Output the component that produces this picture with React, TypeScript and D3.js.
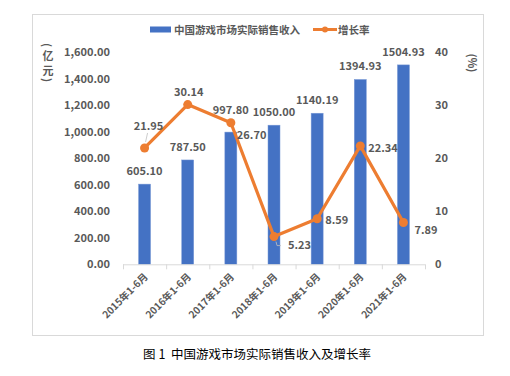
import React from "react";
import * as d3 from "d3";

const categories = ["2015年1-6月", "2016年1-6月", "2017年1-6月", "2018年1-6月", "2019年1-6月", "2020年1-6月", "2021年1-6月"];
const revenue = [605.1, 787.5, 997.8, 1050.0, 1140.19, 1394.93, 1504.93];
const growth = [21.95, 30.14, 26.7, 5.23, 8.59, 22.34, 7.89];
const leftTicks = [0, 200, 400, 600, 800, 1000, 1200, 1400, 1600];
const rightTicks = [0, 10, 20, 30, 40];
const leftTitle = ["(", "亿", "元", ")"];

// label offsets (pixels) relative to marks
const barLabelDy = [-9, -9, -18, -9, -9, -9, -9];
const lineLabelOffsets: [number, number, string][] = [
  [4, -18, "middle"],
  [1, -9, "middle"],
  [6, 16, "start"],
  [14, 12, "start"],
  [8, 5, "start"],
  [8, 6, "start"],
  [11, 12, "start"],
];

const FONT = "'Noto Sans CJK SC', 'Noto Sans', sans-serif";
const GRAY = "#595959";

export default function App() {
  const W = 510, H = 376;
  const x0 = 123, x1 = 425, yTop = 52.3, yBot = 264.3;
  const x = d3.scaleBand<string>().domain(categories).range([x0, x1]);
  const yL = d3.scaleLinear().domain([0, 1600]).range([yBot, yTop]);
  const yR = d3.scaleLinear().domain([0, 40]).range([yBot, yTop]);
  const cx = (c: string) => (x(c) as number) + x.bandwidth() / 2;
  const barW = 12;
  const line = d3.line<number>().x((_, i) => cx(categories[i])).y((d) => yR(d));
  const fmtL = d3.format(",.2f");
  const leftTitleY = [45, 55, 70, 80];

  return (
    <svg width={W} height={H} style={{ position: "absolute", left: 0, top: 0 }}>
      <rect x={0} y={0} width={W} height={H} fill="#fff" />
      <rect x={32.5} y={14.5} width={451} height={321} fill="#fff" stroke="#d9d9d9" strokeWidth={1} />
      {/* legend */}
      <rect x={150} y={26.5} width={21} height={6} fill="#4472C4" />
      <text x={174} y={33.5} fontFamily={FONT} fontSize={10.5} fontWeight="bold" fill={GRAY}>中国游戏市场实际销售收入</text>
      <line x1={313} x2={337} y1={29.5} y2={29.5} stroke="#ED7D31" strokeWidth={3} />
      <circle cx={325} cy={29.5} r={3} fill="#ED7D31" />
      <text x={338} y={33.5} fontFamily={FONT} fontSize={10.5} fontWeight="bold" fill={GRAY}>增长率</text>
      {/* axis titles */}
      {leftTitle.map((ch, i) => (
        <text key={i} transform={`translate(48,${leftTitleY[i]})${i === 0 || i === 3 ? " rotate(90)" : ""}`} dominantBaseline="central" textAnchor="middle" fontFamily={FONT} fontSize={11} fontWeight="bold" fill={GRAY}>{ch}</text>
      ))}
      <text transform="translate(473,63) rotate(90)" dominantBaseline="central" textAnchor="middle" fontFamily={FONT} fontSize={11} fontWeight="bold" fill={GRAY}>(%)</text>
      {/* left ticks */}
      {leftTicks.map((t) => (
        <text key={t} x={110} y={yL(t) + 4} textAnchor="end" fontFamily={FONT} fontSize={11} fontWeight="bold" fill={GRAY}>{fmtL(t)}</text>
      ))}
      {rightTicks.map((t) => (
        <text key={t} x={435} y={yR(t) + 4} textAnchor="start" fontFamily={FONT} fontSize={11} fontWeight="bold" fill={GRAY}>{t}</text>
      ))}
      {/* bars */}
      {revenue.map((v, i) => (
        <rect key={i} x={cx(categories[i]) - barW / 2} y={yL(v)} width={barW} height={yBot - yL(v)} fill="#4472C4" stroke="#7a9ad6" strokeWidth={0.5} />
      ))}
      {/* axis */}
      <line x1={x0} x2={x1} y1={yBot + 0.5} y2={yBot + 0.5} stroke="#d9d9d9" />
      {[...categories.map((c) => x(c) as number), x1].map((t, i) => (
        <line key={i} x1={t + 0.5} x2={t + 0.5} y1={yBot} y2={yBot + 5} stroke="#d9d9d9" />
      ))}
      {categories.map((c) => (
        <text key={c} transform={`translate(${cx(c) + 4},${yBot + 13}) rotate(-45)`} textAnchor="end" fontFamily={FONT} fontSize={10} fontWeight="bold" fill={GRAY}>{c}</text>
      ))}
      {/* leader lines */}
      <line x1={cx(categories[0]) + 1} y1={yR(growth[0]) - 6} x2={cx(categories[0]) + 3} y2={yR(growth[0]) - 15} stroke="#bfbfbf" strokeWidth={0.8} />
      <polyline points={`${cx(categories[3]) + 2},${yR(growth[3]) + 5} ${cx(categories[3]) + 3},${yR(growth[3]) + 9} ${cx(categories[3]) + 7},${yR(growth[3]) + 9}`} fill="none" stroke="#bfbfbf" strokeWidth={0.8} />
      {/* line */}
      <path d={line(growth) || ""} fill="none" stroke="#ED7D31" strokeWidth={3.2} strokeLinejoin="round" />
      {growth.map((g, i) => (
        <circle key={i} cx={cx(categories[i])} cy={yR(g)} r={4.5} fill="#ED7D31" />
      ))}
      {/* bar labels */}
      {revenue.map((v, i) => (
        <text key={i} x={cx(categories[i])} y={yL(v) + barLabelDy[i]} textAnchor="middle" fontFamily={FONT} fontSize={11} fontWeight="bold" fill={GRAY}>{v.toFixed(2)}</text>
      ))}
      {growth.map((g, i) => (
        <text key={i} x={cx(categories[i]) + lineLabelOffsets[i][0]} y={yR(g) + lineLabelOffsets[i][1]} textAnchor={lineLabelOffsets[i][2] as any} fontFamily={FONT} fontSize={11} fontWeight="bold" fill={GRAY}>{g.toFixed(2)}</text>
      ))}
      {/* caption */}
      <text x={257} y={359} textAnchor="middle" fontFamily={FONT} fontSize={12.5} fill="#000" style={{ whiteSpace: "pre" }}>{"图 1  中国游戏市场实际销售收入及增长率"}</text>
    </svg>
  );
}
